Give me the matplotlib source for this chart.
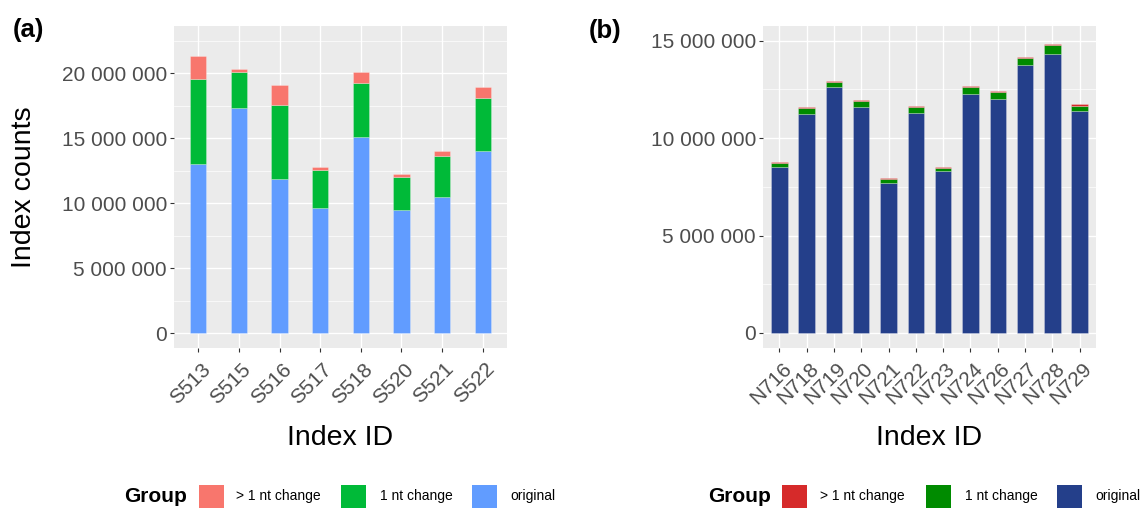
import matplotlib
matplotlib.use("Agg")
import matplotlib.pyplot as plt
import numpy as np
from matplotlib.patches import Rectangle
from matplotlib.ticker import FuncFormatter, MultipleLocator
from matplotlib.transforms import ScaledTranslation

plt.rcParams["font.family"] = ["Liberation Sans", "DejaVu Sans"]

# ---- data (read counts, millions) ----
SCALE = 1e6
groups = ["> 1 nt change", "1 nt change", "original"]

s_ids = ["S513", "S515", "S516", "S517", "S518", "S520", "S521", "S522"]
s_original = [13.03, 17.36, 11.87, 9.64, 15.10, 9.51, 10.51, 14.00]
s_one_nt = [6.57, 2.74, 5.67, 2.92, 4.16, 2.49, 3.13, 4.10]
s_multi_nt = [1.73, 0.20, 1.59, 0.21, 0.87, 0.23, 0.36, 0.85]

n_ids = ["N716", "N718", "N719", "N720", "N721", "N722",
         "N723", "N724", "N726", "N727", "N728", "N729"]
n_original = [8.51, 11.21, 12.63, 11.58, 7.67, 11.29,
              8.29, 12.27, 12.03, 13.75, 14.33, 11.38]
n_one_nt = [0.20, 0.31, 0.25, 0.31, 0.24, 0.28,
            0.20, 0.34, 0.34, 0.35, 0.43, 0.29]
n_multi_nt = [0.05, 0.06, 0.04, 0.05, 0.05, 0.05,
              0.04, 0.05, 0.03, 0.06, 0.07, 0.07]

colors_a = {"> 1 nt change": "#F8766D", "1 nt change": "#00BA38", "original": "#619CFF"}
colors_b = {"> 1 nt change": "#D62A2A", "1 nt change": "#008B00", "original": "#243F8A"}

W, H = 1143, 508
fig = plt.figure(figsize=(W / 100, H / 100), dpi=100)


def fx(px):
    return px / W


def fy(py):
    return 1 - py / H


def space_fmt(v, _pos):
    return f"{v:,.0f}".replace(",", " ")


def panel(rect, ids, orig, one, multi, colors, width, ylim):
    ax = fig.add_axes(rect)
    ax.set_facecolor("#EBEBEB")
    x = np.arange(len(ids))
    o = np.array(orig) * SCALE
    a = np.array(one) * SCALE
    m = np.array(multi) * SCALE
    edge = dict(edgecolor=(1, 1, 1, 0.35), linewidth=0.5)
    ax.bar(x, o, width, color=colors["original"], zorder=3, **edge)
    ax.bar(x, a, width, bottom=o, color=colors["1 nt change"], zorder=3, **edge)
    ax.bar(x, m, width, bottom=o + a, color=colors["> 1 nt change"], zorder=3, **edge)

    ax.set_xlim(-0.6, len(ids) - 0.4)
    ax.set_ylim(*ylim)
    ax.yaxis.set_major_locator(MultipleLocator(5e6))
    ax.yaxis.set_minor_locator(MultipleLocator(2.5e6))
    ax.yaxis.set_major_formatter(FuncFormatter(space_fmt))
    ax.set_xticks(x)
    ax.set_xticklabels(ids)

    ax.grid(which="major", color="white", linewidth=1.0, zorder=0)
    ax.grid(which="minor", axis="y", color="white", linewidth=0.5, zorder=0)
    ax.set_axisbelow(True)
    for s in ax.spines.values():
        s.set_visible(False)

    ax.tick_params(axis="both", which="major", length=3, width=0.8,
                   color="#333333", labelcolor="#4D4D4D", labelsize=15)
    ax.tick_params(axis="y", which="minor", length=0)
    ax.tick_params(axis="y", pad=2)
    ax.tick_params(axis="x", pad=10)
    off = ScaledTranslation(9 / 100, 0, fig.dpi_scale_trans)
    for lab in ax.get_xticklabels():
        lab.set_rotation(45)
        lab.set_rotation_mode("anchor")
        lab.set_ha("right")
        lab.set_va("center")
        lab.set_transform(lab.get_transform() + off)

    ax.set_xlabel("Index ID", fontsize=20.5, color="black")
    ax.xaxis.set_label_coords(0.5, -(438 - 348) / (348 - 26))
    ax.xaxis.label.set_va("center")
    return ax


top, bottom = 26, 348
ax_a = panel([fx(174), fy(bottom), fx(507) - fx(174), fy(top) - fy(bottom)],
             s_ids, s_original, s_one_nt, s_multi_nt, colors_a, 0.4,
             (-1.13e6, 23.64e6))
ax_b = panel([fx(763), fy(bottom), fx(1096) - fx(763), fy(top) - fy(bottom)],
             n_ids, n_original, n_one_nt, n_multi_nt, colors_b, 0.6,
             (-0.77e6, 15.75e6))

ax_a.set_ylabel("Index counts", fontsize=20.5, color="black")
ax_a.yaxis.set_label_coords(-(174 - 24) / (507 - 174), 0.5)
ax_a.yaxis.label.set_va("center")

# panel tags
fig.text(fx(28), fy(30), "(a)", fontsize=18.5, fontweight="bold", ha="center", va="center")
fig.text(fx(605), fy(31), "(b)", fontsize=18.5, fontweight="bold", ha="center", va="center")


def legend(x_group, keys, label_x, colors):
    yc = 496
    fig.text(fx(x_group), fy(yc), "Group", fontsize=15, fontweight="bold",
             ha="left", va="center")
    for g, kx, lx in zip(groups, keys, label_x):
        fig.add_artist(Rectangle((fx(kx), fy(yc + 12)), fx(25), 23 / H,
                                 transform=fig.transFigure, facecolor=colors[g],
                                 edgecolor="none"))
        fig.text(fx(lx), fy(yc), g, fontsize=10, ha="left", va="center")


legend(124, [199, 341, 472], [236, 380, 510], colors_a)
legend(708, [782, 926, 1057], [820, 965, 1095], colors_b)

fig.savefig("out.png", dpi=100)
